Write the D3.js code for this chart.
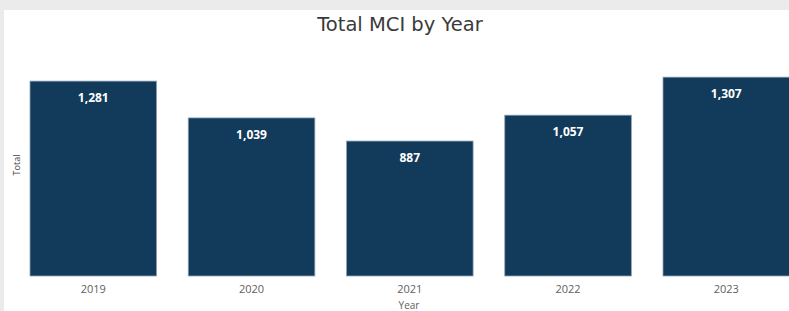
<!DOCTYPE html>
<html>
<head>
<meta charset="utf-8">
<script src="https://cdn.jsdelivr.net/npm/d3@7"></script>
<style>
  body { margin: 0; background: #ebebeb; }
  svg { display: block; }
</style>
</head>
<body>
<div id="chart"></div>
<script>
// Data
const years = ['2019', '2020', '2021', '2022', '2023'];
const totals = [1281, 1039, 887, 1057, 1307];

const width = 789, height = 311;

const svg = d3.select('#chart')
  .append('svg')
  .attr('width', width)
  .attr('height', height);

// white panel with gray strip on top/left
svg.append('rect')
  .attr('x', 4)
  .attr('y', 10)
  .attr('width', width - 4)
  .attr('height', height - 10)
  .attr('fill', '#ffffff');

// Scales
const xScale = d3.scaleBand()
  .domain(years)
  .range([30, 789.6])
  .paddingInner(0.2)
  .paddingOuter(0);

const yScale = d3.scaleLinear()
  .domain([0, 1400])
  .range([276, 63]);

// Bars
svg.selectAll('rect.bar')
  .data(years)
  .enter()
  .append('rect')
  .attr('class', 'bar')
  .attr('x', d => xScale(d))
  .attr('y', (d, i) => yScale(totals[i]))
  .attr('width', xScale.bandwidth())
  .attr('height', (d, i) => yScale(0) - yScale(totals[i]))
  .attr('fill', '#123a5a')
  .attr('stroke', '#8fa3b6')
  .attr('stroke-width', 0.8);

// Value labels inside bars
svg.selectAll('text.value')
  .data(years)
  .enter()
  .append('text')
  .attr('class', 'value')
  .text((d, i) => d3.format(',')(totals[i]))
  .attr('x', d => xScale(d) + xScale.bandwidth() / 2)
  .attr('y', (d, i) => yScale(totals[i]) + 21)
  .attr('text-anchor', 'middle')
  .style('font-family', '"Open Sans", sans-serif')
  .style('font-weight', 'bold')
  .style('font-size', '12px')
  .style('fill', '#ffffff');

// X axis
const xAxis = svg.append('g')
  .attr('transform', 'translate(0,276)')
  .call(d3.axisBottom(xScale).tickSize(0).tickPadding(9));
xAxis.select('.domain').remove();
xAxis.selectAll('text')
  .style('font-family', '"Open Sans", sans-serif')
  .style('font-size', '11px')
  .style('fill', '#605e5c');

// Axis titles
svg.append('text')
  .attr('x', 409)
  .attr('y', 309)
  .attr('text-anchor', 'middle')
  .style('font-family', '"Open Sans", sans-serif')
  .style('font-size', '10px')
  .style('fill', '#605e5c')
  .text('Year');

svg.append('text')
  .attr('transform', 'translate(20,165) rotate(-90)')
  .attr('text-anchor', 'middle')
  .style('font-family', '"Open Sans", sans-serif')
  .style('font-size', '9px')
  .style('fill', '#444444')
  .text('Total');

// Chart title
svg.append('text')
  .attr('x', 400)
  .attr('y', 31)
  .attr('text-anchor', 'middle')
  .style('font-family', '"DejaVu Sans", sans-serif')
  .style('font-size', '19.5px')
  .style('fill', '#3a3a3a')
  .text('Total MCI by Year');
</script>
</body>
</html>
